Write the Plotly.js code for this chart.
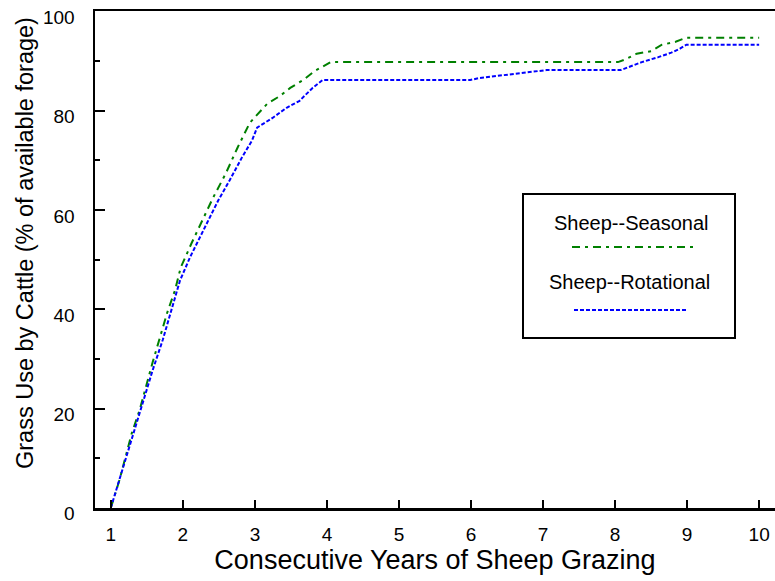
<!DOCTYPE html>
<html>
<head>
<meta charset="utf-8">
<script src="https://cdn.plot.ly/plotly-3.0.1.min.js"></script>
<style>html,body{margin:0;padding:0;background:#fff;}#chart{width:775px;height:581px;}</style>
</head>
<body>
<div id="chart"></div>
<script>
var seasonalX = [1.00,1.12,1.29,1.40,1.58,1.78,1.89,1.97,2.12,2.28,2.42,2.60,2.76,2.93,3.17,3.35,3.49,3.67,3.83,4.05,8.04,8.15,8.30,8.50,8.65,8.84,8.98,10.0];
var seasonalY = [0,5.6,15,19.7,29.3,39.2,43.8,48.4,53.3,58.3,62.5,67.5,72.6,77.6,81.4,83.0,84.6,86.2,88.0,89.8,89.8,90.4,91.5,92.0,93.3,93.9,94.7,94.7];
var rotationalX = [1.00,1.15,1.29,1.43,1.58,1.72,1.85,1.96,2.10,2.24,2.37,2.49,2.65,2.82,2.96,3.03,3.25,3.44,3.62,3.80,3.94,5.99,6.12,6.36,6.58,6.82,7.05,8.08,8.15,8.37,8.60,8.78,8.90,8.99,10.0];
var rotationalY = [0,7.2,13.7,20.3,27.7,33.8,40.4,45.8,50.5,54.5,58.5,61.9,66.0,70.6,74.0,76.6,78.6,80.6,82.0,84.6,86.2,86.2,86.6,87.0,87.4,87.8,88.2,88.2,88.6,89.8,90.8,91.7,92.5,93.3,93.3];
var seriesNames = ["Sheep--Seasonal","Sheep--Rotational"];
var xTicks = [1,2,3,4,5,6,7,8,9,10];
var yTicks = [0,20,40,60,80,100];
var xTitle = "Consecutive Years of Sheep Grazing";
var yTitle = "Grass Use by Cattle (% of available forage)";

var FONT = "Liberation Sans, Arial, sans-serif";
var green = "#008000", blue = "#0000ff";

var traces = [
  {x: seasonalX, y: seasonalY, name: seriesNames[0], mode: "lines", line: {color: green, width: 2, dash: "8px,5px,3px,5px"}, showlegend: false},
  {x: rotationalX, y: rotationalY, name: seriesNames[1], mode: "lines", line: {color: blue, width: 2, dash: "4px,2px"}, showlegend: false}
];

function px(x){return (x-95)/680;}
function py(y){return (508-y)/497;}

var layout = {
  width: 775, height: 581,
  margin: {l: 95, r: 0, t: 11, b: 73},
  paper_bgcolor: "#fff", plot_bgcolor: "#fff",
  font: {family: FONT, color: "#000", size: 20},
  showlegend: false,
  xaxis: {
    range: [0.78, 10.22], tickvals: xTicks, ticktext: xTicks.map(String),
    ticks: "inside", ticklen: 8, tickwidth: 2, tickcolor: "#000",
    showline: true, linewidth: 2.5, linecolor: "#000", mirror: true,
    showgrid: false, zeroline: false,
    tickfont: {family: FONT, size: 19, color: "#000"},
    ticklabelstandoff: 8, ticklabeloverflow: "allow",
    title: {text: xTitle, font: {family: FONT, size: 27, color: "#000"}, standoff: 6}
  },
  yaxis: {
    range: [-0.05, 100.1], tickvals: yTicks, ticktext: yTicks.map(String),
    ticks: "inside", ticklen: 10, tickwidth: 2, tickcolor: "#000",
    minor: {tickvals: [10,30,50,70,90], ticks: "inside", ticklen: 5, tickwidth: 2, tickcolor: "#000", showgrid: false},
    showline: true, linewidth: 2.5, linecolor: "#000", mirror: false,
    showgrid: false, zeroline: false,
    tickfont: {family: FONT, size: 19, color: "#000"},
    ticklabelstandoff: 14, ticklabelshift: 6, ticklabeloverflow: "allow"
  },
  shapes: [
    {type: "rect", xref: "paper", yref: "paper", x0: px(523), x1: px(735), y0: py(338), y1: py(194), line: {color: "#000", width: 2}, fillcolor: "#fff", layer: "above"},
    {type: "line", xref: "paper", yref: "paper", x0: px(572), x1: px(698), y0: py(247), y1: py(247), line: {color: green, width: 2, dash: "8px,5px,3px,5px"}},
    {type: "line", xref: "paper", yref: "paper", x0: px(574), x1: px(686), y0: py(310), y1: py(310), line: {color: blue, width: 2, dash: "4px,2px"}}
  ],
  annotations: [
    {text: seriesNames[0], xref: "paper", yref: "paper", x: px(631), y: py(223), xanchor: "center", yanchor: "middle", showarrow: false, font: {family: FONT, size: 20, color: "#000"}},
    {text: seriesNames[1], xref: "paper", yref: "paper", x: px(629), y: py(282), xanchor: "center", yanchor: "middle", showarrow: false, font: {family: FONT, size: 20, color: "#000"}},
    {text: yTitle, xref: "paper", yref: "paper", x: px(25), y: py(243), xanchor: "center", yanchor: "middle", textangle: -90, showarrow: false, font: {family: FONT, size: 23.5, color: "#000"}}
  ]
};

Plotly.newPlot("chart", traces, layout, {displayModeBar: false, staticPlot: true});
</script>
</body>
</html>
